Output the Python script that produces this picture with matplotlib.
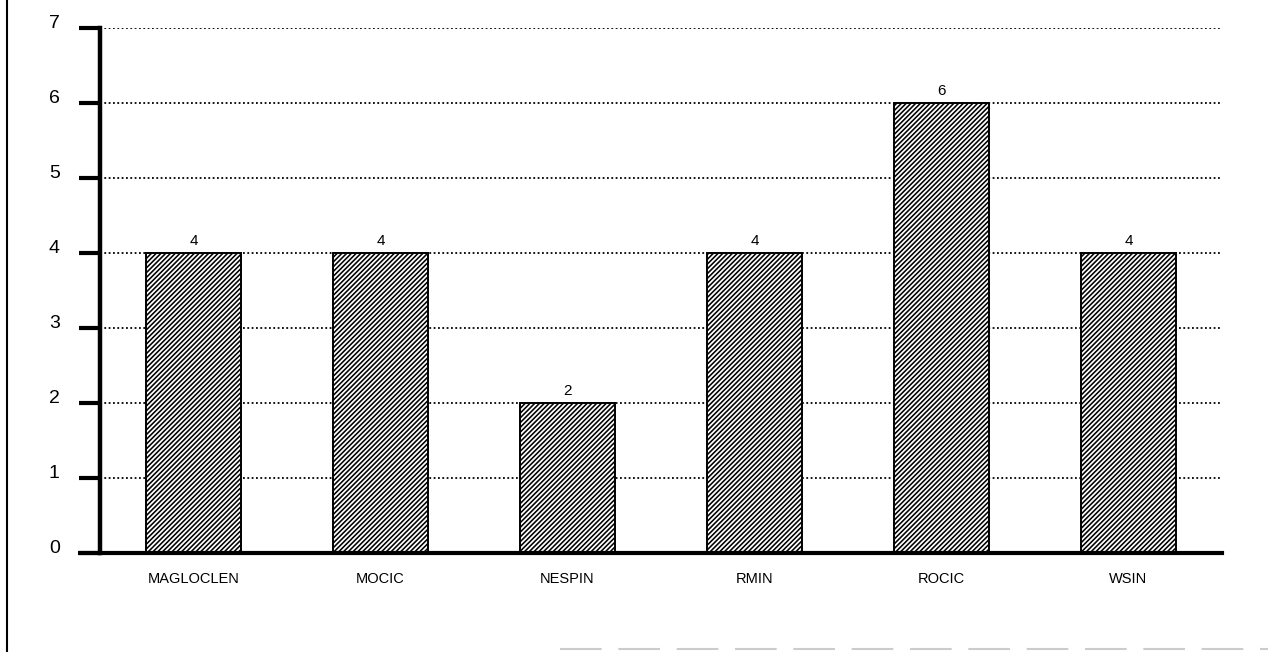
import matplotlib
matplotlib.use("Agg")
import matplotlib.pyplot as plt
from matplotlib.lines import Line2D

# --- datos ---
centros = ["MAGLOCLEN", "MOCIC", "NESPIN", "RMIN", "ROCIC", "WSIN"]
valores = [4, 4, 2, 4, 6, 4]
marcas_y = [0, 1, 2, 3, 4, 5, 6, 7]

plt.rcParams["font.family"] = ["Liberation Sans", "DejaVu Sans"]
plt.rcParams["hatch.linewidth"] = 1.15

fig = plt.figure(figsize=(12.68, 6.52), dpi=100)
ax = fig.add_axes([100 / 1268, 99 / 652, 1122 / 1268, 525 / 652])

x = range(len(centros))
barras = ax.bar(x, valores, width=0.51, color="white", edgecolor="black",
                linewidth=1.4, hatch="///////", zorder=3)

# etiquetas de valor sobre cada barra
for xi, v in zip(x, valores):
    ax.text(xi, v + 0.07, str(v), ha="center", va="bottom", fontsize=11,
            color="black", zorder=4)

ax.set_xlim(-0.5, 5.5)
ax.set_ylim(0, 7)
ax.set_yticks(marcas_y)
ax.set_yticklabels([str(m) for m in marcas_y], fontsize=14)
for etiqueta in ax.get_yticklabels():
    etiqueta.set_verticalalignment("baseline")
ax.set_xticks(list(x))
ax.set_xticklabels(centros, fontsize=10.5)

# rejilla punteada
ax.yaxis.grid(True, linestyle=(0, (1, 1.4)), color="black", linewidth=1.3, zorder=1)
ax.xaxis.grid(False)

for lado in ["top", "right"]:
    ax.spines[lado].set_visible(False)
ax.spines["left"].set_linewidth(3.2)
ax.spines["bottom"].set_linewidth(3.0)
ax.spines["left"].set_zorder(5)
ax.spines["bottom"].set_zorder(5)

ax.tick_params(axis="y", length=15, width=3.0, direction="out", pad=14)
ax.tick_params(axis="x", length=0, pad=14)

# extensión del eje x hacia la izquierda (como en el original)
ax.plot([-0.62, -0.5], [0, 0], color="black", linewidth=3.0, clip_on=False,
        solid_capstyle="butt")

# borde izquierdo del escaneo y línea tenue inferior
fig.add_artist(Line2D([7 / 1268, 7 / 1268], [0, 1], color="black", linewidth=1.5))
fig.add_artist(Line2D([560 / 1268, 1], [3 / 652, 3 / 652], color="#cccccc",
                      linewidth=1.5, linestyle=(0, (20, 8))))

fig.savefig("out.png", dpi=100)
